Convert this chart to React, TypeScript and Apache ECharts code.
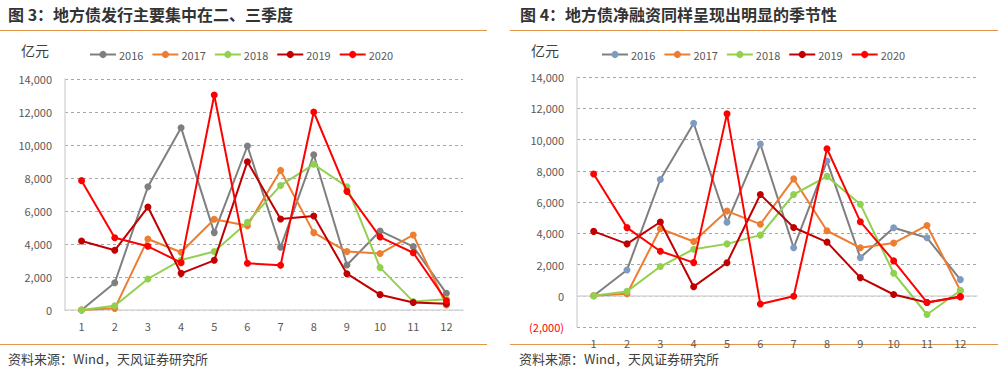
import React, { useEffect, useRef } from "react";
import * as echarts from "echarts";

const months = ["1", "2", "3", "4", "5", "6", "7", "8", "9", "10", "11", "12"];
const years = ["2016", "2017", "2018", "2019", "2020"];

// 图3 地方债发行 (亿元)
const issue2016 = [0, 1650, 7470, 11050, 4690, 9940, 3800, 9410, 2730, 4790, 3840, 1010];
const issue2017 = [0, 100, 4300, 3500, 5500, 5110, 8460, 4690, 3540, 3420, 4550, 300];
const issue2018 = [0, 260, 1880, 3030, 3540, 5310, 7550, 8830, 7470, 2570, 510, 650];
const issue2019 = [4180, 3620, 6240, 2220, 3010, 8990, 5510, 5700, 2200, 930, 450, 380];
const issue2020 = [7840, 4380, 3860, 2870, 13030, 2830, 2710, 12000, 7190, 4420, 3470, 560];

// 图4 地方债净融资 (亿元)
const net2016 = [0, 1650, 7440, 11040, 4700, 9710, 3070, 8620, 2440, 4350, 3710, 1030];
const net2017 = [0, 130, 4290, 3470, 5420, 4580, 7480, 4160, 3070, 3370, 4500, 340];
const net2018 = [0, 280, 1870, 2980, 3320, 3880, 6480, 7640, 5860, 1440, -1200, 340];
const net2019 = [4120, 3320, 4720, 580, 2110, 6480, 4370, 3430, 1160, 80, -430, -50];
const net2020 = [7790, 4360, 2850, 2120, 11640, -530, -30, 9410, 4740, 2230, -430, -80];

const issueData = [issue2016, issue2017, issue2018, issue2019, issue2020];
const netData = [net2016, net2017, net2018, net2019, net2020];

const lineColors = ["#7F7F7F", "#ED7D31", "#92D050", "#C00000", "#FF0000"];
const markerColorsRight = ["#7F9CC0", "#ED7D31", "#92D050", "#C00000", "#FF0000"];

const FONT = "'Noto Sans CJK SC', 'Noto Sans', sans-serif";

const fmt = (v: number) => {
  const s = Math.abs(v).toLocaleString("en-US");
  return v < 0 ? `(${s})` : s;
};

export default function App() {
  const ref = useRef<HTMLDivElement>(null);
  useEffect(() => {
    if (!ref.current) return;
    const chart = echarts.init(ref.current, undefined, { renderer: "svg" });

    const mkAxisX = (gridIndex: number) => ({
      type: "category",
      gridIndex,
      data: months,
      boundaryGap: true,
      axisLine: { show: true, onZero: true, lineStyle: { color: "#D9D9D9", width: 1.5 } },
      axisTick: { show: false },
      axisLabel: { color: "#595959", fontSize: 11, fontFamily: FONT, margin: 10 },
      splitLine: { show: false },
    });
    const mkAxisY = (gridIndex: number, min: number) => ({
      type: "value",
      gridIndex,
      min,
      max: 14000,
      interval: 2000,
      axisLine: { show: true, lineStyle: { color: "#D9D9D9", width: 1.5 } },
      axisTick: { show: false },
      axisLabel: {
        color: (v: any) => (Number(v) < 0 ? "#FF0000" : "#595959"),
        fontSize: 11,
        fontFamily: FONT,
        margin: 13,
        formatter: (v: number) => fmt(v),
      },
      splitLine: { show: true, lineStyle: { color: "#A6A6A6", type: [3, 3], width: 1 } },
    });

    const series: any[] = [];
    years.forEach((y, i) => {
      series.push({
        name: y,
        type: "line",
        xAxisIndex: 0,
        yAxisIndex: 0,
        data: issueData[i],
        symbol: "circle",
        symbolSize: 7,
        lineStyle: { color: lineColors[i], width: 2 },
        itemStyle: { color: lineColors[i] },
        z: 2 + i,
      });
      series.push({
        name: y + "b",
        type: "line",
        xAxisIndex: 1,
        yAxisIndex: 1,
        data: netData[i],
        symbol: "circle",
        symbolSize: 7,
        lineStyle: { color: lineColors[i], width: 2 },
        itemStyle: { color: markerColorsRight[i] },
        z: 2 + i,
      });
    });

    const legendCommon = {
      top: 44,
      orient: "horizontal",
      itemWidth: 26,
      itemHeight: 9,
      itemGap: 8,
      textStyle: { color: "#595959", fontSize: 11, fontFamily: FONT, padding: [0, 0, 0, -2] },
    };

    chart.setOption({
      animation: false,
      backgroundColor: "#FFFFFF",
      legend: [
        { ...legendCommon, left: 84, data: years },
        { ...legendCommon, left: 596, data: years.map((y) => y + "b"), formatter: (n: string) => n.replace("b", "") },
      ],
      grid: [
        { left: 65, top: 79, width: 398, height: 231 },
        { left: 577, top: 77, width: 400, height: 250 },
      ],
      xAxis: [mkAxisX(0), mkAxisX(1)],
      yAxis: [mkAxisY(0, 0), mkAxisY(1, -2000)],
      series,
      graphic: [
        { type: "text", left: 8, top: 6, style: { text: "图 3：地方债发行主要集中在二、三季度", fontSize: 16, fontWeight: "bold", fill: "#333333", fontFamily: FONT } },
        { type: "text", left: 520, top: 6, style: { text: "图 4：地方债净融资同样呈现出明显的季节性", fontSize: 16, fontWeight: "bold", fill: "#333333", fontFamily: FONT } },
        { type: "line", shape: { x1: 0, y1: 30.5, x2: 487, y2: 30.5 }, style: { stroke: "#E0954A", lineWidth: 1.2 } },
        { type: "line", shape: { x1: 510, y1: 30.5, x2: 998, y2: 30.5 }, style: { stroke: "#E0954A", lineWidth: 1.2 } },
        { type: "line", shape: { x1: 0, y1: 344.5, x2: 487, y2: 344.5 }, style: { stroke: "#E0954A", lineWidth: 1.2 } },
        { type: "line", shape: { x1: 510, y1: 344.5, x2: 998, y2: 344.5 }, style: { stroke: "#E0954A", lineWidth: 1.2 } },
        { type: "text", left: 21, top: 43, style: { text: "亿元", fontSize: 14, fill: "#404040", fontFamily: FONT } },
        { type: "text", left: 531, top: 43, style: { text: "亿元", fontSize: 14, fill: "#404040", fontFamily: FONT } },
        { type: "text", left: 8, top: 352, style: { text: "资料来源：Wind，天风证券研究所", fontSize: 13, fill: "#404040", fontFamily: FONT } },
        { type: "text", left: 519, top: 352, style: { text: "资料来源：Wind，天风证券研究所", fontSize: 13, fill: "#404040", fontFamily: FONT } },
      ],
    });
    return () => chart.dispose();
  }, []);
  return (
    <div
      ref={ref}
      style={{ position: "absolute", left: 0, top: 0, width: 1006, height: 373 }}
    />
  );
}
